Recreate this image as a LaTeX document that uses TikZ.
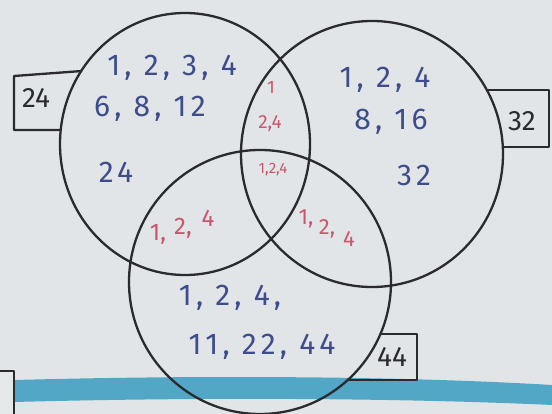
\documentclass[tikz,border=0pt]{standalone}
\usepackage{fontspec}
\setmainfont{Fira Sans}
\newfontfamily\hand[LetterSpace=14]{Fira Sans}
\usetikzlibrary{shapes.geometric}
\definecolor{paper}{HTML}{E1E5E7}
\definecolor{band}{HTML}{52A7C6}
\definecolor{pen}{HTML}{2B2B2E}
\definecolor{inkblue}{HTML}{3E4C8C}
\definecolor{inkred}{HTML}{C8566C}
\tikzset{
  pen/.style={draw=pen, line width=2.3pt, line join=round},
  setc/.style={pen, ellipse, inner sep=0pt},
  blue/.style={text=inkblue, font=\hand\fontsize{30}{31}\selectfont, inner sep=0pt},
  red/.style={text=inkred, inner sep=0pt},
  redm/.style={red, font=\fontsize{24}{24}\selectfont},
  reds/.style={red, font=\fontsize{22}{22}\selectfont},
  lab/.style={text=pen, font=\fontsize{28}{28}\selectfont, inner sep=0pt}
}
\begin{document}
\begin{tikzpicture}[x=1pt,y=-1pt]
\useasboundingbox (0,0) rectangle (552,414);
\fill[paper] (0,0) rectangle (552,414);
% notebook band and corner box
\fill[band] (15,380) .. controls (200,375) and (400,376) .. (552,385) -- (552,405) .. controls (400,398) and (200,397) .. (15,402) -- cycle;
\fill[paper!90!white] (-1,371) rectangle (14,415);
\draw[pen, line width=1.6pt] (-1,371) -- (14,371) -- (14,415);
% label boxes
\draw[pen] (82,71) -- (14,76) -- (14,130) -- (61,130);
\draw[pen] (487,90) -- (549,90) -- (549,147) -- (503,147);
\draw[pen] (380,334) -- (417,334) -- (417,380) -- (348,380);
% sets
\node[setc, minimum width=250pt, minimum height=262pt] (A) at (185,144) {};
\node[setc, minimum width=262pt, minimum height=266pt] (B) at (372,154) {};
\node[setc, minimum width=262pt, minimum height=264pt] (C) at (260,282) {};
% box labels
\node[lab] (lA) at (36,98) {24};
\node[lab] (lB) at (522,121) {32};
\node[lab] (lC) at (392,357) {44};
% blue elements
\node[blue] (a1) at (172,68) {1, 2, 3, 4};
\node[blue] (a2) at (150,109) {6, 8, 12};
\node[blue] (a3) at (116,172) {24};
\node[blue] (b1) at (385,80) {1, 2, 4};
\node[blue] (b2) at (391,122) {8, 16};
\node[blue] (b3) at (414,175) {32};
\node[blue] (c1) at (230,298) {1, 2, 4,};
\node[blue] (c2) at (262,347) {11, 22, 44};
% red intersections
\node[red, font=\fontsize{18}{18}\selectfont] (ab1) at (271,87) {1};
\node[red, font=\fontsize{19}{19}\selectfont] (ab2) at (270,124) {2,4};
\node[red, font=\fontsize{15}{15}\selectfont] (abc) at (273,170) {1,2,4};
\node[redm] (ac1) at (158,234) {1,};
\node[redm] (ac2) at (183,228) {2,};
\node[redm] (ac3) at (208,218) {4};
\node[reds] (bc1) at (306,219) {1,};
\node[reds] (bc2) at (327,229) {2,};
\node[reds] (bc3) at (349,239) {4};
\end{tikzpicture}
\end{document}
